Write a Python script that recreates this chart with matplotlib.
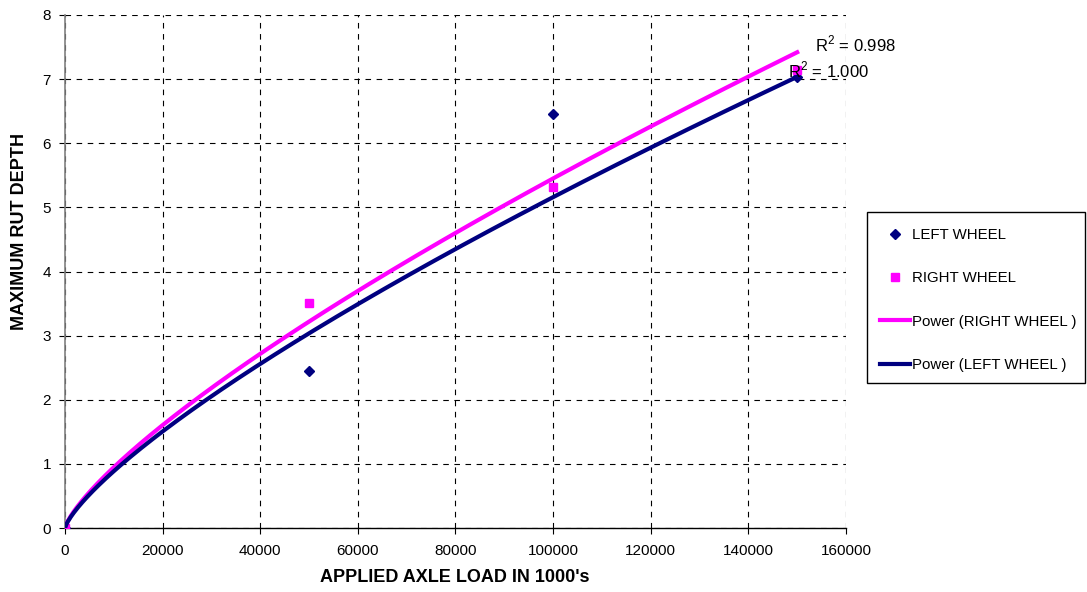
import numpy as np
import matplotlib
matplotlib.use("Agg")
import matplotlib.pyplot as plt
from matplotlib.patches import Rectangle

plt.rcParams['font.family'] = ['Liberation Sans', 'DejaVu Sans']
plt.rcParams['mathtext.fontset'] = 'custom'
plt.rcParams['mathtext.rm'] = 'Liberation Sans'

# Data
axle_load = [0, 50000, 100000, 150000]
left_wheel = [0, 2.45, 6.46, 7.04]
right_wheel = [0, 3.51, 5.32, 7.14]

# Power trendline coefficients (y = a * x^b)
right_fit = (8.64e-4, 0.76)
left_fit = (7.72e-4, 0.765)
r2_right = "0.998"
r2_left = "1.000"

x_ticks = list(range(0, 160001, 20000))
y_ticks = list(range(0, 9))

navy = '#000080'
magenta = '#FF00FF'

W, H = 1087, 592
fig = plt.figure(figsize=(W/100, H/100), dpi=100)
ax = fig.add_axes([65/W, 1-528/H, (846-65)/W, (528-15)/H])

ax.plot(axle_load, left_wheel, linestyle='none', marker='D', color=navy,
        markersize=5.5, label='LEFT WHEEL', zorder=3)
ax.plot(axle_load, right_wheel, linestyle='none', marker='s', color=magenta,
        markersize=6, label='RIGHT WHEEL', zorder=3)

xs = np.linspace(0, max(axle_load), 500)
ax.plot(xs, right_fit[0] * xs ** right_fit[1], color=magenta, lw=3,
        label='Power (RIGHT WHEEL )', zorder=4)
ax.plot(xs, left_fit[0] * xs ** left_fit[1], color=navy, lw=3,
        label='Power (LEFT WHEEL )', zorder=4)

ax.set_xlim(0, 160000)
ax.set_ylim(0, 8)
ax.set_xticks(x_ticks)
ax.set_xticklabels([str(v) for v in x_ticks])
ax.set_yticks(y_ticks)
ax.set_yticklabels([str(v) for v in y_ticks])
ax.tick_params(axis='both', labelsize=11, direction='out', length=4,
               width=0.8, color='black')
ax.tick_params(axis='x', pad=7.5)
ax.tick_params(axis='y', pad=6)
ax.grid(True, color='black', linestyle=(0, (5, 5)), linewidth=0.8)
ax.set_axisbelow(True)
for s in ['top', 'right']:
    ax.spines[s].set_visible(False)
ax.spines['left'].set_color('#808080')
ax.spines['left'].set_linewidth(1.2)
ax.spines['bottom'].set_color('black')
ax.spines['bottom'].set_linewidth(1.0)

fig.text(455/W, 1-577/H, "APPLIED AXLE LOAD IN 1000's", fontsize=13,
         fontweight='bold', ha='center', va='center')
fig.text(20/W, 1-232/H, "MAXIMUM RUT DEPTH", fontsize=13,
         fontweight='bold', ha='center', va='center', rotation=90)

fig.text(815/W, 1-44/H, r"R$^{2}$ = " + r2_right, fontsize=12,
         va='center', ha='left')
fig.text(788/W, 1-70/H, r"R$^{2}$ = " + r2_left, fontsize=12,
         va='center', ha='left')

# legend box
fig.patches.append(Rectangle((867/W, 1-383/H), (1085-867)/W, (383-212)/H,
                             transform=fig.transFigure, fill=False,
                             edgecolor='black', linewidth=1.0))
leg = fig.legend(loc='center left', bbox_to_anchor=(880/W, 1-300/H),
                 fontsize=10.8, frameon=False,
                 handlelength=2.0, handletextpad=0.13, labelspacing=1.95,
                 borderpad=0, borderaxespad=0)

fig.savefig('out.png', dpi=100)
